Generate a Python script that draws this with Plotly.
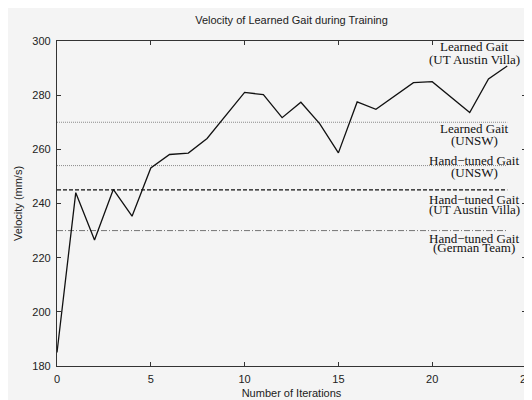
import plotly.graph_objects as go

iterations = list(range(0, 25))
velocity = [185, 244, 226.5, 245.2, 235.3, 253.1, 258.1, 258.6, 264, 272.3, 281,
            280.2, 271.7, 277.4, 269.5, 258.7, 277.5, 274.8, 279.6, 284.6, 285,
            279.4, 273.6, 286, 290.8]

ref_names = ["Learned Gait (UNSW)", "Hand-tuned Gait (UNSW)",
             "Hand-tuned Gait (UT Austin Villa)", "Hand-tuned Gait (German Team)"]
ref_values = [270, 254, 245, 230]
ref_x = [0, 24]

label_lines = [
    ["Learned Gait", "(UT Austin Villa)"],
    ["Learned Gait", "(UNSW)"],
    ["Hand\u2212tuned Gait", "(UNSW)"],
    ["Hand\u2212tuned Gait", "(UT Austin Villa)"],
    ["Hand\u2212tuned Gait", "(German Team)"],
]
label_y = [[297.8, 293.1], [267.7, 263.4], [256.0, 251.3], [241.5, 237.9], [227.1, 223.8]]
label_x = 22.25

fig = go.Figure()

styles = [
    dict(color="#8a8a8a", width=1, dash="1px,1px"),
    dict(color="#8a8a8a", width=1, dash="1px,1px"),
    dict(color="#111111", width=1.3, dash="4px,2px"),
    dict(color="#555555", width=0.8, dash="6px,2px,1px,2px"),
]
for name, v, st in zip(ref_names, ref_values, styles):
    fig.add_trace(go.Scatter(x=ref_x, y=[v, v], mode="lines", line=st,
                             name=name, showlegend=False, hoverinfo="skip"))

fig.add_trace(go.Scatter(x=iterations, y=velocity, mode="lines",
                         line=dict(color="#111111", width=1.3),
                         name="Learned Gait (UT Austin Villa)", showlegend=False))

for lines, ys in zip(label_lines, label_y):
    for txt, yy in zip(lines, ys):
        fig.add_annotation(x=label_x, y=yy, text=txt, showarrow=False,
                           xanchor="center", yanchor="middle", borderpad=0,
                           font=dict(family="Liberation Serif", size=13, color="#111111"))

L, R, T, B = 49, 14, 33, 42
pw = 532 - L - R

axis_common = dict(showgrid=False, zeroline=False, showline=True, linecolor="#333333",
                   linewidth=1.2, mirror="ticks", ticks="inside", ticklen=4,
                   tickcolor="#333333", tickwidth=1, automargin=False,
                   ticklabelstandoff=3,
                   tickfont=dict(family="Liberation Sans", size=11, color="#222222"))

fig.update_layout(
    width=532, height=400,
    margin=dict(l=L, r=R, t=T, b=B),
    paper_bgcolor="#f4f4f4", plot_bgcolor="#f4f4f4",
    title=dict(text="Velocity of Learned Gait during Training", x=(L + pw / 2) / 532,
               xanchor="center", y=1 - 12 / 400, yanchor="middle",
               font=dict(family="Liberation Sans", size=11, color="#222222")),
    xaxis=dict(range=[0, 25], tickvals=[0, 5, 10, 15, 20, 25],
               title=dict(text="Number of Iterations", standoff=5,
                          font=dict(family="Liberation Sans", size=11, color="#222222")),
               **axis_common),
    yaxis=dict(range=[180, 300], tickvals=[180, 200, 220, 240, 260, 280, 300],
               title=dict(text="Velocity (mm/s)", standoff=7,
                          font=dict(family="Liberation Sans", size=11, color="#222222")),
               **axis_common),
)

fig.write_html("out.html")
